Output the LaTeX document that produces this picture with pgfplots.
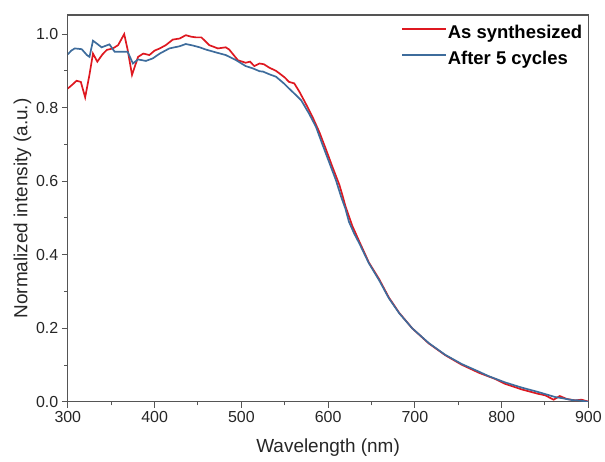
\documentclass[border=0pt]{standalone}
\usepackage{fontspec}
\setmainfont{Liberation Sans}
\usepackage{pgfplots}
\pgfplotsset{compat=1.18}
\definecolor{cred}{RGB}{222,24,32}
\definecolor{cblue}{RGB}{62,108,156}
\definecolor{axgray}{RGB}{85,85,85}
\begin{document}
\begin{tikzpicture}
\begin{axis}[
  scale only axis,
  width=522pt, height=388pt,
  xmin=300, xmax=900, ymin=0, ymax=1.052,
  xtick={300,400,500,600,700,800,900},
  ytick={0,0.2,0.4,0.6,0.8,1.0},
  minor x tick num=1, minor y tick num=1,
  tick align=outside,
  xtick pos=bottom, ytick pos=left,
  major tick length=6pt, minor tick length=3.5pt,
  every tick/.style={axgray, line width=1pt},
  axis line style={axgray, line width=1.2pt},
  /pgf/number format/assume math mode=true,
  yticklabel style={/pgf/number format/.cd, fixed, fixed zerofill, precision=1},
  xticklabel style={/pgf/number format/.cd, fixed, 1000 sep={}},
  ticklabel style={font=\fontsize{16}{18}\selectfont, text=black!85},
  xlabel={Wavelength (nm)},
  ylabel={Normalized intensity (a.u.)},
  label style={font=\fontsize{19}{22}\selectfont, text=black!85},
  xlabel style={yshift=-9pt},
  ylabel style={yshift=-2pt},
  legend style={at={(1,1)}, anchor=north east, xshift=-3pt, yshift=-4pt,
    draw=none, fill=none, font=\bfseries\fontsize{18.5}{22}\selectfont,
    nodes={text height=16pt, text depth=8pt, inner sep=1pt}, inner sep=2pt},
  legend cell align=left,
  legend image code/.code={\draw[#1, line width=1.6pt] (0pt,5pt) -- (44pt,5pt);},
]
\addplot[cred, line width=1.7pt] coordinates {
(300,0.852) (305,0.862) (310,0.873) (315,0.870) (320,0.828) (325,0.890)
(329,0.947) (334,0.925) (340,0.945) (345,0.957) (352,0.961) (358,0.970)
(365,1.000) (369,0.957) (374,0.889) (381,0.938) (387,0.947) (394,0.943)
(400,0.955) (406,0.961) (413,0.970) (421,0.985) (429,0.988) (436,0.997)
(442,0.993) (448,0.991) (454,0.991) (463,0.970) (473,0.961) (482,0.964)
(486,0.958) (496,0.929) (505,0.922) (510,0.925) (515,0.913) (521,0.920)
(526,0.918) (532,0.909) (540,0.900) (544,0.893) (550,0.882) (555,0.870)
(561,0.866) (567,0.843) (574,0.812) (582,0.775) (590,0.733) (597,0.690)
(605,0.639) (613,0.590) (617,0.558) (620,0.532) (628,0.478) (636,0.436)
(647,0.379) (659,0.333) (670,0.284) (682,0.242) (697,0.200) (716,0.159)
(735,0.127) (754,0.101) (774,0.079) (793,0.062) (804,0.049) (823,0.034)
(842,0.022) (850,0.018) (860,0.006) (867,0.016) (875,0.008) (885,0.004)
(892,0.006) (898,0.002) (900,0.001)
};
\addlegendentry{As synthesized}
\addplot[cblue, line width=1.7pt] coordinates {
(300,0.945) (304,0.955) (308,0.961) (316,0.959) (322,0.943) (325,0.938)
(329,0.982) (333,0.975) (339,0.964) (348,0.972) (354,0.952) (366,0.952)
(369,0.952) (375,0.920) (381,0.931) (390,0.927) (398,0.934) (406,0.947)
(417,0.961) (429,0.967) (436,0.973) (444,0.969) (452,0.964) (459,0.958)
(471,0.950) (482,0.943) (494,0.929) (505,0.913) (513,0.907) (521,0.899)
(525,0.898) (532,0.891) (540,0.884) (544,0.876) (549,0.866) (555,0.852)
(563,0.834) (569,0.820) (578,0.784) (586,0.748) (593,0.703) (601,0.653)
(609,0.603) (615,0.558) (620,0.525) (624,0.490) (630,0.458) (636,0.431)
(647,0.377) (659,0.330) (670,0.282) (682,0.241) (697,0.200) (716,0.160)
(735,0.128) (754,0.103) (774,0.082) (785,0.070) (804,0.053) (823,0.039)
(842,0.027) (852,0.020) (862,0.013) (870,0.010) (881,0.005) (890,0.004)
(898,0.001) (900,0.000)
};
\addlegendentry{After 5 cycles}
\end{axis}
\useasboundingbox (-68pt,-60pt) rectangle (537pt,403pt);
\end{tikzpicture}
\end{document}
